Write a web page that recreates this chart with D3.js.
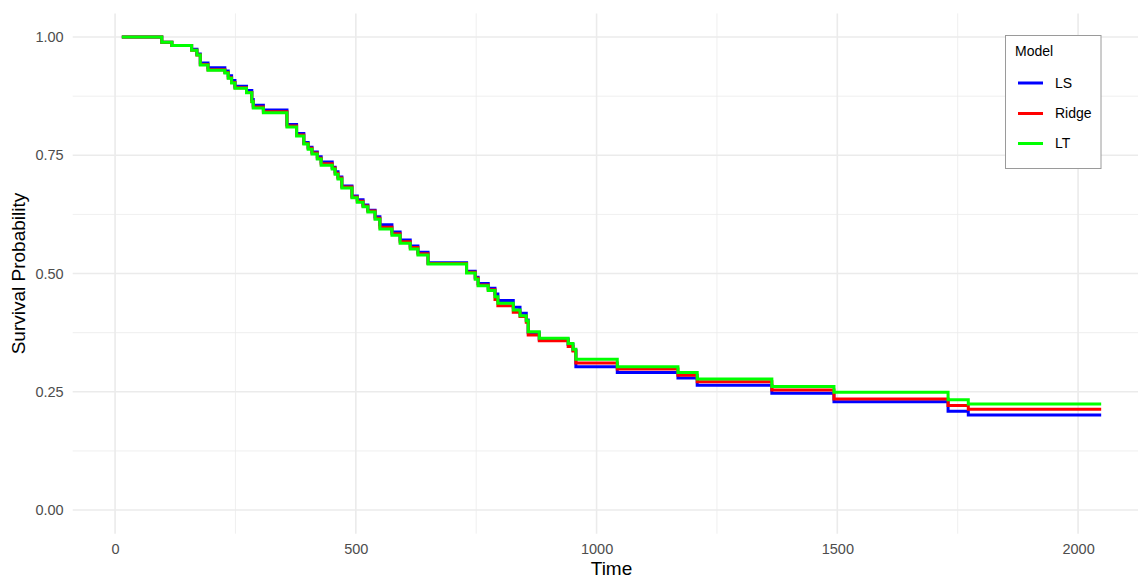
<!DOCTYPE html>
<html>
<head>
<meta charset="utf-8">
<script src="https://cdn.jsdelivr.net/npm/d3@7"></script>
<style>
  html, body { margin: 0; padding: 0; background: #ffffff; }
  svg { display: block; font-family: "Liberation Sans", Arial, Helvetica, sans-serif; }
</style>
</head>
<body>
<svg id="chart" width="1138" height="578"></svg>
<script>
// Event times (days) at which the estimated survival curves step down
const times = [14, 97, 118, 159, 170, 177, 193, 228, 235, 242, 249, 273, 284, 287, 308,
  357, 377, 392, 401, 409, 420, 428, 451, 457, 463, 471, 492, 503, 515, 525, 540, 550,
  575, 592, 613, 629, 650, 730, 748, 754, 775, 789, 795, 827, 841, 854, 858, 881, 941,
  951, 957, 1043, 1169, 1209, 1364, 1493, 1730, 1772];
const endTime = 2048;

// Survival probability after each event, per model
const survLS = [1.000, 0.989, 0.982, 0.974, 0.964, 0.945, 0.935, 0.928, 0.918, 0.908,
  0.896, 0.887, 0.868, 0.856, 0.846, 0.815, 0.796, 0.777, 0.767, 0.757, 0.747, 0.736,
  0.725, 0.715, 0.704, 0.685, 0.664, 0.656, 0.645, 0.634, 0.620, 0.603, 0.588, 0.571,
  0.558, 0.545, 0.523, 0.505, 0.492, 0.479, 0.469, 0.457, 0.443, 0.429, 0.416, 0.402,
  0.375, 0.361, 0.350, 0.338, 0.303, 0.291, 0.279, 0.264, 0.247, 0.229, 0.209, 0.201];
const survRidge = [1.000, 0.989, 0.982, 0.972, 0.962, 0.942, 0.931, 0.925, 0.914, 0.904,
  0.893, 0.883, 0.864, 0.852, 0.842, 0.812, 0.793, 0.775, 0.765, 0.755, 0.744, 0.732,
  0.723, 0.712, 0.702, 0.683, 0.662, 0.653, 0.643, 0.632, 0.617, 0.598, 0.584, 0.567,
  0.555, 0.542, 0.521, 0.503, 0.490, 0.476, 0.466, 0.445, 0.432, 0.418, 0.409, 0.397,
  0.370, 0.358, 0.346, 0.336, 0.311, 0.298, 0.285, 0.271, 0.254, 0.235, 0.221, 0.213];
const survLT = [1.000, 0.989, 0.982, 0.972, 0.962, 0.941, 0.930, 0.924, 0.913, 0.903,
  0.892, 0.882, 0.863, 0.850, 0.840, 0.810, 0.791, 0.774, 0.763, 0.753, 0.742, 0.729,
  0.721, 0.710, 0.700, 0.681, 0.660, 0.651, 0.641, 0.630, 0.615, 0.594, 0.581, 0.564,
  0.552, 0.539, 0.520, 0.501, 0.488, 0.474, 0.464, 0.451, 0.437, 0.423, 0.411, 0.400,
  0.377, 0.363, 0.352, 0.340, 0.319, 0.303, 0.291, 0.277, 0.261, 0.249, 0.233, 0.224];

const modelNames = ["LS", "Ridge", "LT"];
const modelColors = ["#0000FF", "#FF0000", "#00FF00"];
const xTicks = [0, 500, 1000, 1500, 2000];
const xMinor = [250, 750, 1250, 1750];
const yTicks = [0, 0.25, 0.5, 0.75, 1.0];
const yMinor = [0.125, 0.375, 0.625, 0.875];

const svg = d3.select("#chart");

// Panel (ggplot-style 5% expansion around the data)
const panel = { left: 72.7, right: 1150.3, top: 13.4, bottom: 533.7 };
const x = d3.scaleLinear().domain([-88, 2150]).range([panel.left, panel.right]);
const y = d3.scaleLinear().domain([-0.05, 1.05]).range([panel.bottom, panel.top]);

const grid = svg.append("g");
// minor grid
grid.selectAll(".xminor").data(xMinor).join("line")
  .attr("x1", d => x(d)).attr("x2", d => x(d))
  .attr("y1", panel.top).attr("y2", panel.bottom)
  .attr("stroke", "#EBEBEB").attr("stroke-width", 0.8);
grid.selectAll(".yminor").data(yMinor).join("line")
  .attr("x1", panel.left).attr("x2", panel.right)
  .attr("y1", d => y(d)).attr("y2", d => y(d))
  .attr("stroke", "#EBEBEB").attr("stroke-width", 0.8);
// major grid
grid.selectAll(".xmajor").data(xTicks).join("line")
  .attr("x1", d => x(d)).attr("x2", d => x(d))
  .attr("y1", panel.top).attr("y2", panel.bottom)
  .attr("stroke", "#EBEBEB").attr("stroke-width", 1.6);
grid.selectAll(".ymajor").data(yTicks).join("line")
  .attr("x1", panel.left).attr("x2", panel.right)
  .attr("y1", d => y(d)).attr("y2", d => y(d))
  .attr("stroke", "#EBEBEB").attr("stroke-width", 1.6);

// Axes (tick labels only, theme_minimal look)
const xAxis = svg.append("g")
  .attr("transform", `translate(0,${panel.bottom})`)
  .call(d3.axisBottom(x).tickValues(xTicks).tickSize(0).tickPadding(10).tickFormat(d3.format("d")));
xAxis.select(".domain").remove();
xAxis.selectAll("text").attr("fill", "#4D4D4D").style("font-size", "14.5px")
  .style("font-family", "'Liberation Sans', Arial, sans-serif");

const yAxis = svg.append("g")
  .attr("transform", `translate(${panel.left},0)`)
  .call(d3.axisLeft(y).tickValues(yTicks).tickSize(0).tickPadding(9).tickFormat(d3.format(".2f")));
yAxis.select(".domain").remove();
yAxis.selectAll("text").attr("fill", "#4D4D4D").style("font-size", "14.5px")
  .style("font-family", "'Liberation Sans', Arial, sans-serif");

// Axis titles
svg.append("text")
  .attr("x", (panel.left + panel.right) / 2).attr("y", 575)
  .attr("text-anchor", "middle").attr("fill", "#000")
  .style("font-size", "19px").text("Time");
svg.append("text")
  .attr("transform", `translate(25,${(panel.top + panel.bottom) / 2}) rotate(-90)`)
  .attr("text-anchor", "middle").attr("fill", "#000")
  .style("font-size", "19px").text("Survival Probability");

// Step curves
const series = [survLS, survRidge, survLT].map((vals, i) => {
  const pts = times.map((t, j) => ({ t, s: vals[j] }));
  pts.push({ t: endTime, s: vals[vals.length - 1] });
  return { name: modelNames[i], color: modelColors[i], pts };
});

const line = d3.line().x(d => x(d.t)).y(d => y(d.s)).curve(d3.curveStepAfter);
svg.append("g").selectAll("path").data(series).join("path")
  .attr("d", d => line(d.pts))
  .attr("fill", "none")
  .attr("stroke", d => d.color)
  .attr("stroke-width", 3)
  .attr("stroke-linejoin", "miter")
  .attr("stroke-linecap", "butt");

// Legend
const lg = svg.append("g");
lg.append("rect")
  .attr("x", 1005.5).attr("y", 35.5).attr("width", 95.5).attr("height", 133)
  .attr("fill", "#fff").attr("stroke", "#9A9A9A").attr("stroke-width", 1);
lg.append("text").attr("x", 1015).attr("y", 56).attr("fill", "#000")
  .style("font-size", "14px").text("Model");
const keyY = [83, 113.5, 143.5];
series.forEach((s, i) => {
  lg.append("line")
    .attr("x1", 1018).attr("x2", 1043)
    .attr("y1", keyY[i]).attr("y2", keyY[i])
    .attr("stroke", s.color).attr("stroke-width", 3);
  lg.append("text")
    .attr("x", 1055).attr("y", keyY[i]).attr("dy", "0.35em")
    .attr("fill", "#000").style("font-size", "14px").text(s.name);
});
</script>
</body>
</html>
